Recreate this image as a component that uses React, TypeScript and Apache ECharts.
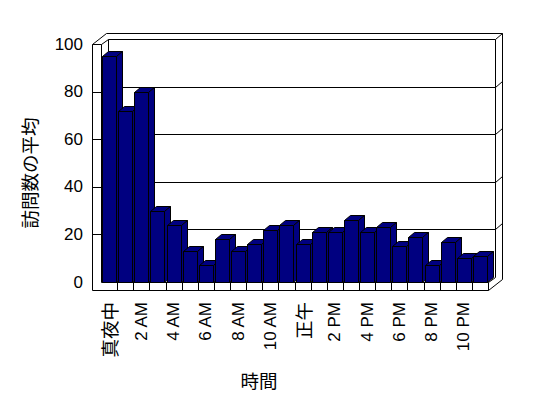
import React, { useEffect, useRef } from 'react';
import * as echarts from 'echarts';

const hours = ['真夜中', '1 AM', '2 AM', '3 AM', '4 AM', '5 AM', '6 AM', '7 AM', '8 AM', '9 AM', '10 AM', '11 AM',
  '正午', '1 PM', '2 PM', '3 PM', '4 PM', '5 PM', '6 PM', '7 PM', '8 PM', '9 PM', '10 PM', '11 PM'];
const visits = [95, 72, 80, 30, 24, 13, 7, 18, 13, 16, 22, 24, 16, 21, 21, 26, 21, 23, 15, 19, 7, 17, 10, 11];
const yTicks = [0, 20, 40, 60, 80, 100];
const xTitle = '時間';
const yTitle = '訪問数の平均';

const NAVY = '#000080';
const DX = 7, DY = -5, TX = 7, TY = -6, FT = 8, LW = 9, BDX = 6, BDY = -5;
const p = (v: number) => Math.round(v) + 0.5;
const L = (x1: number, y1: number, x2: number, y2: number) => ({
  type: 'line', shape: { x1, y1, x2, y2 }, style: { stroke: '#000', lineWidth: 1 },
});

export default function App() {
  const ref = useRef<HTMLDivElement>(null);
  useEffect(() => {
    if (!ref.current) return;
    const chart = echarts.init(ref.current, undefined, { renderer: 'svg' });
    const yMin = yTicks[0];
    const yMax = yTicks[yTicks.length - 1];
    chart.setOption({
      animation: false,
      backgroundColor: '#fff',
      grid: { left: 101, right: 60, top: 44, bottom: 116 },
      xAxis: {
        type: 'category',
        data: hours,
        axisLine: { show: false },
        axisTick: { show: false },
        splitLine: { show: false },
        axisLabel: {
          interval: 1,
          rotate: 90,
          margin: 20,
          color: '#000',
          formatter: (v: string) => (/[^\x00-\x7F]/.test(v) ? `{c|${v}}` : `{l|${v}}`),
          rich: {
            c: { fontFamily: 'Noto Sans CJK JP', fontSize: 18.5, color: '#000' },
            l: { fontFamily: 'Liberation Sans', fontSize: 17, color: '#000' },
          },
        },
      },
      yAxis: {
        type: 'value',
        min: yMin,
        max: yMax,
        interval: 20,
        axisLine: { show: false },
        axisTick: { show: false },
        splitLine: { show: false },
        axisLabel: { margin: 18, color: '#000', fontFamily: 'Liberation Sans', fontSize: 17 },
      },
      graphic: [
        {
          type: 'text', x: 259, y: 380,
          style: { text: xTitle, align: 'center', verticalAlign: 'middle', font: '18.5px "Noto Sans CJK JP"', fill: '#000' },
        },
        {
          type: 'text', x: 29, y: 173, rotation: Math.PI / 2,
          style: { text: yTitle, align: 'center', verticalAlign: 'middle', font: '18.5px "Noto Sans CJK JP"', fill: '#000' },
        },
      ],
      series: [
        {
          type: 'custom',
          silent: true,
          clip: false,
          z: 1,
          data: [[0, yMin]],
          renderItem: (_params: any, api: any) => {
            const band = api.size([1, 0])[0];
            const c0 = api.coord([0, yMin]);
            const xL = p(c0[0] - band / 2);
            const xR = p(c0[0] - band / 2 + band * hours.length);
            const y0 = p(c0[1]);
            const yT = p(api.coord([0, yMax])[1]);
            const children: any[] = [
              L(xL - LW, yT, xL - LW, y0 + FT),
              L(xL - LW, y0 + FT, xR, y0 + FT),
              L(xR, y0, xR, y0 + FT),
              L(xR, y0 + FT, xR + DX + TX, y0 + FT + DY + TY),
              L(xR + DX + TX, y0 + FT + DY + TY, xR + DX + TX, yT + DY + TY),
              L(xR + DX + TX, yT + DY + TY, xL - LW + DX + TX, yT + DY + TY),
              L(xL - LW + DX + TX, yT + DY + TY, xL - LW, yT),
              L(xL - LW, yT, xL, yT),
              L(xL, yT, xL + DX, yT + DY),
              L(xL + DX, yT + DY, xR + DX, yT + DY),
              L(xR + DX, yT + DY, xR + DX + TX, yT + DY + TY),
              L(xR + DX, yT + DY, xR + DX, y0 + DY),
              L(xR, y0, xR + DX, y0 + DY),
              L(xL + DX, yT + DY, xL + DX, y0 + DY),
              L(xL, yT, xL, y0),
              L(xL, y0, xR, y0),
            ];
            yTicks.slice(1, -1).forEach((v) => {
              const y = p(api.coord([0, v])[1]);
              children.push(L(xL + DX, y + DY, xR + DX, y + DY));
              children.push(L(xR + DX, y + DY, xR + DX + TX, y + DY + TY));
              children.push(L(xL, y, xL + DX, y + DY));
              children.push(L(xL - LW, y, xL, y));
            });
            for (let i = 1; i < hours.length; i++) {
              const x = p(c0[0] - band / 2 + i * band);
              children.push(L(x, y0, x, y0 + FT));
            }
            return { type: 'group', children };
          },
        },
        {
          type: 'custom',
          silent: true,
          clip: false,
          z: 2,
          data: visits.map((v, i) => [i, v]),
          renderItem: (_params: any, api: any) => {
            const i = api.value(0);
            const v = api.value(1);
            const band = api.size([1, 0])[0];
            const top = api.coord([i, v]);
            const base = api.coord([i, 0]);
            const w = Math.round(band * 0.87);
            const x1 = p(top[0] - w / 2);
            const x2 = x1 + w;
            const yt = p(top[1]);
            const yb = p(base[1]);
            const st = { fill: NAVY, stroke: '#000', lineWidth: 1 };
            return {
              type: 'group',
              children: [
                { type: 'rect', shape: { x: x1, y: yt, width: w, height: yb - yt }, style: st },
                { type: 'polygon', shape: { points: [[x1, yt], [x2, yt], [x2 + BDX, yt + BDY], [x1 + BDX, yt + BDY]] }, style: st },
                { type: 'polygon', shape: { points: [[x2, yt], [x2 + BDX, yt + BDY], [x2 + BDX, yb + BDY], [x2, yb]] }, style: st },
              ],
            };
          },
        },
      ],
    });
    return () => chart.dispose();
  }, []);
  return <div ref={ref} style={{ position: 'fixed', left: 0, top: 0, width: 548, height: 398 }} />;
}
